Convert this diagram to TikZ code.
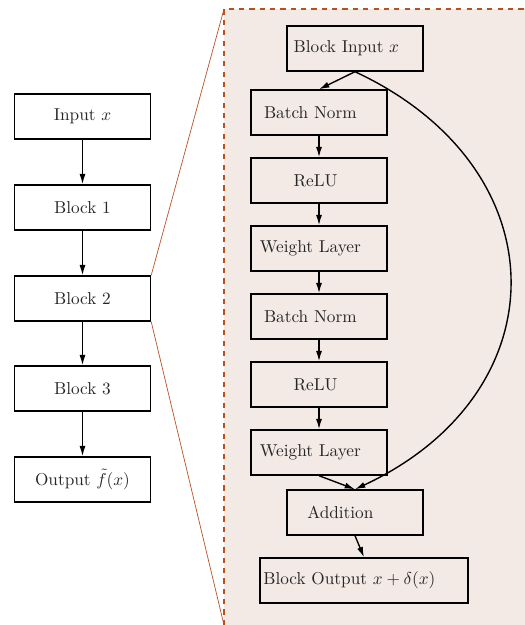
\documentclass[tikz,border=0pt]{standalone}
\usepackage{amsmath, amssymb}
\usepackage{tikz}
\usetikzlibrary{arrows.meta, positioning}
\definecolor{zoomEdge}{HTML}{B8501F}
\definecolor{zoomFill}{HTML}{F3E9E5}
\begin{document}
\begin{tikzpicture}[
    x=0.58pt, y=-0.58pt,
    block/.style={rectangle, draw, thick, minimum width=78.9pt, minimum height=26.1pt, inner sep=0pt, text=black!85},
    layerbox/.style={block, execute at end node={\hspace{#1}}},
    layerbox/.default=10pt,
    arr/.style={-{Latex[length=6pt, width=3.5pt]}, thick},
    zoomline/.style={zoomEdge, thin}
]
\useasboundingbox (0,0) rectangle (525,625);

% Zoom panel
\fill[zoomFill] (224,9) rectangle (525,625);
\coordinate (panelTop) at (224,9);
\coordinate (panelBot) at (224,625);
\coordinate (panelRight) at (525,9);
\draw[zoomEdge, thick, dashed] (panelBot) -- (panelTop) -- (panelRight);

% Network
\node[block] (input) at (82.5,116.5) {Input $x$};
\node[block] (blockA) at (82.5,207.5) {Block 1};
\node[block] (blockB) at (82.5,298.5) {Block 2};
\node[block] (blockC) at (82.5,388.5) {Block 3};
\node[block] (output) at (82.5,479.5) {Output $\tilde{f}(x)$};

\draw[zoomline] (blockB.north east) -- (panelTop);
\draw[zoomline] (blockB.south east) -- (panelBot);

% Residual block
\node[layerbox] (resIn) at (355,48.5) {Block Input $x$};
\node[layerbox] (bnA) at (319,112.5) {Batch Norm};
\node[layerbox=4pt] (reluA) at (319,180.5) {ReLU};
\node[layerbox] (wA) at (319,248.5) {Weight Layer};
\node[layerbox] (bnB) at (319,316.5) {Batch Norm};
\node[layerbox=4pt] (reluB) at (319,384.5) {ReLU};
\node[layerbox] (wB) at (319,452.5) {Weight Layer};
\node[layerbox=17pt] (add) at (355,512.5) {Addition};
\node[layerbox=17pt, minimum width=120.6pt] (resOut) at (364,580.5) {Block Output $x+\delta(x)$};

% Arrows
\draw[arr] (input) -- (blockA);
\draw[arr] (blockA) -- (blockB);
\draw[arr] (blockB) -- (blockC);
\draw[arr] (blockC) -- (output);

\draw[arr] (resIn.south) -- (bnA.north);
\draw[arr] (bnA) -- (reluA);
\draw[arr] (reluA) -- (wA);
\draw[arr] (wA) -- (bnB);
\draw[arr] (bnB) -- (reluB);
\draw[arr] (reluB) -- (wB);
\draw[arr] (wB.south) -- (add.north);
\draw[arr] (resIn.south) to[out=-25, in=25, looseness=1.4] (add.north);
\draw[arr] (add.south) -- (resOut.north);

\end{tikzpicture}
\end{document}
